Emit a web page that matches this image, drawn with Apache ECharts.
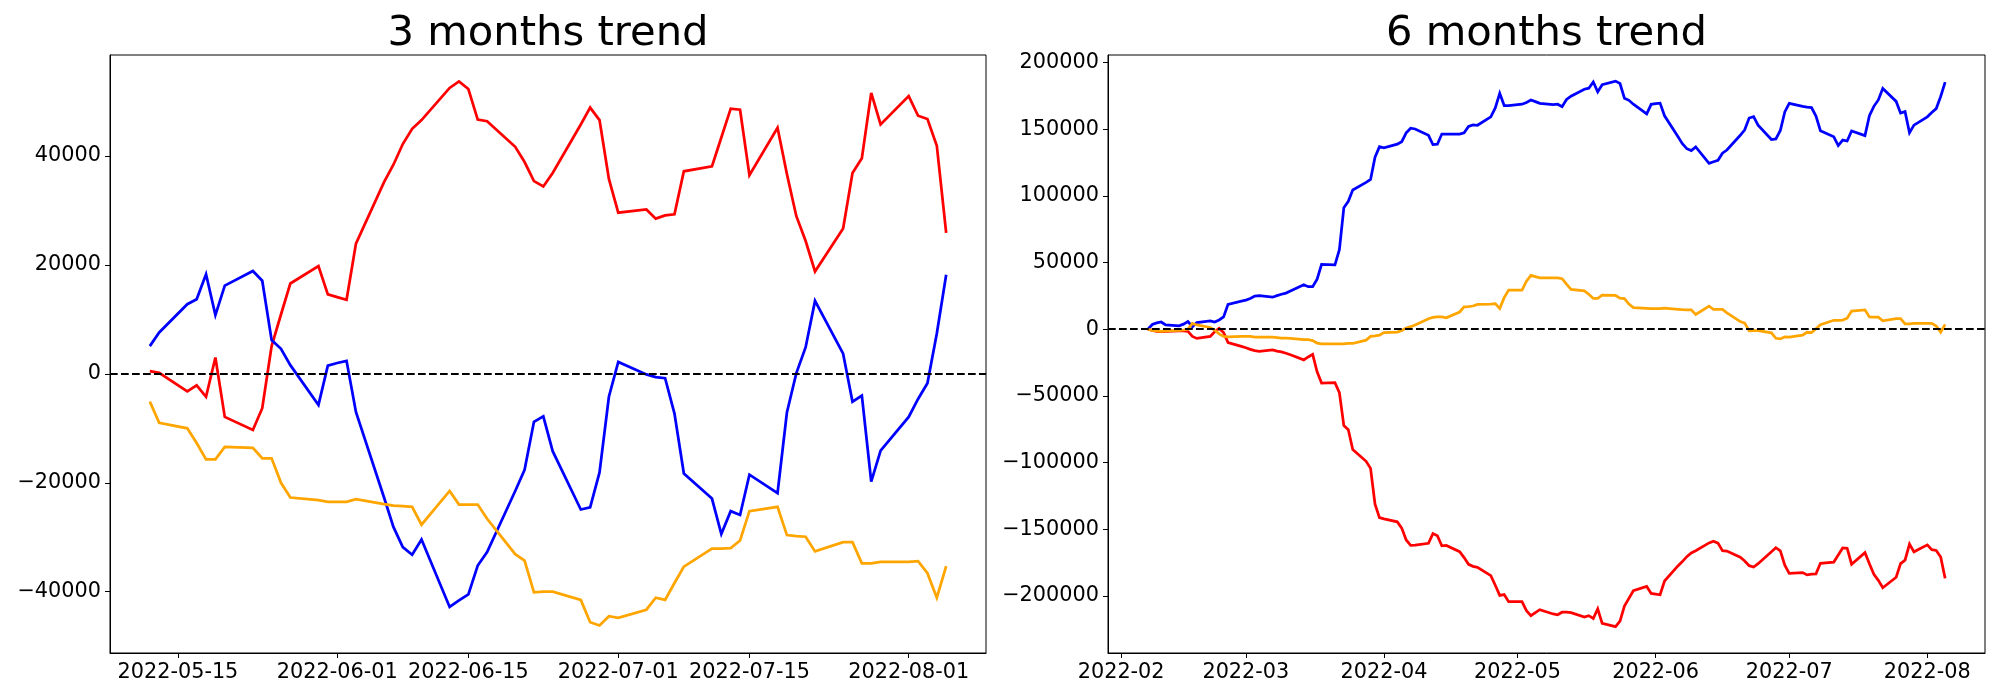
<!DOCTYPE html>
<html><head><meta charset="utf-8">
<script src="https://cdn.jsdelivr.net/npm/echarts@6/dist/echarts.min.js"></script>
<style>html,body{margin:0;padding:0;background:#fff}#c{width:2000px;height:700px}</style>
</head><body><div id="c"></div>
<script>
// ---------- 3 months (2022) ----------
const dates3 = ['05-12','05-13','05-16','05-17','05-18','05-19','05-20','05-23','05-24','05-25','05-26','05-27','05-30','05-31',
 '06-01','06-02','06-03','06-06','06-07','06-08','06-09','06-10','06-13','06-14','06-15','06-16','06-17','06-20','06-21','06-22','06-23','06-24','06-27','06-28','06-29','06-30',
 '07-01','07-04','07-05','07-06','07-07','07-08','07-11','07-12','07-13','07-14','07-15','07-18','07-19','07-20','07-21','07-22','07-25','07-26','07-27','07-28','07-29',
 '08-01','08-02','08-03','08-04','08-05'];
const red3 = [500,200,-3200,-2100,-4200,3000,-7900,-10300,-6300,5100,10900,16600,19800,14600,
 14100,13600,23900,35200,38400,42200,45000,46600,52500,53700,52300,46700,46400,41700,38900,35400,34400,36900,45800,48900,46600,35800,
 29600,30200,28500,29100,29300,37200,38100,43400,48700,48500,36500,45200,36700,29000,24400,18800,26700,36900,39600,51600,45800,
 51000,47400,46800,41900,25900];
const blue3 = [5100,7600,12800,13700,18300,10800,16200,18900,17100,6200,4600,1600,-5700,1500,
 2000,2400,-7000,-22700,-28100,-31800,-33200,-30400,-42800,-41600,-40500,-35200,-32700,-21500,-17600,-8800,-7800,-14200,-24900,-24500,-18100,-4200,
 2200,-100,-600,-800,-7300,-18300,-22900,-29400,-25200,-25900,-18500,-21900,-7100,100,4900,13400,3700,-5100,-4000,-19800,-14100,
 -7900,-4600,-1700,7400,18200];
const orange3 = [-5100,-9000,-10000,-12700,-15700,-15700,-13400,-13600,-15500,-15500,-20000,-22700,-23200,-23500,
 -23500,-23500,-23000,-23900,-24200,-24300,-24400,-27700,-21500,-24000,-24000,-24000,-26600,-33100,-34300,-40100,-40000,-40000,-41500,-45600,-46200,-44500,
 -44800,-43300,-41100,-41500,-38400,-35400,-32100,-32100,-32000,-30600,-25200,-24400,-29600,-29800,-29900,-32600,-30900,-30900,-34800,-34800,-34500,
 -34500,-34400,-36600,-41100,-35300];
const xTicks3 = ['2022-05-15','2022-06-01','2022-06-15','2022-07-01','2022-07-15','2022-08-01'];
const yTicks3 = [-40000,-20000,0,20000,40000];

// ---------- 6 months (2022) ----------
const dates6 = [
 '02-07','02-08','02-09','02-10','02-11','02-14','02-15','02-16','02-17','02-18','02-21','02-22','02-23','02-24','02-25','02-28',
 '03-01','03-02','03-03','03-04','03-07','03-08','03-09','03-10','03-11','03-14','03-15','03-16','03-17','03-18','03-21','03-22','03-23','03-24','03-25','03-28','03-29','03-30','03-31',
 '04-01','04-04','04-05','04-06','04-07','04-08','04-11','04-12','04-13','04-14','04-15','04-18','04-19','04-20','04-21','04-22','04-25','04-26','04-27','04-28','04-29',
 '05-02','05-03','05-04','05-05','05-06','05-09','05-10','05-11','05-12','05-13','05-16','05-17','05-18','05-19','05-20','05-23','05-24','05-25','05-26','05-27','05-30','05-31',
 '06-01','06-02','06-03','06-06','06-07','06-08','06-09','06-10','06-13','06-14','06-15','06-16','06-17','06-20','06-21','06-22','06-23','06-24','06-27','06-28','06-29','06-30',
 '07-01','07-04','07-05','07-06','07-07','07-08','07-11','07-12','07-13','07-14','07-15','07-18','07-19','07-20','07-21','07-22','07-25','07-26','07-27','07-28','07-29',
 '08-01','08-02','08-03','08-04','08-05'];
const blue6 = [
 0,3500,4700,5400,3200,2500,3800,5700,1900,5000,6300,5400,6900,9200,18600,21100,
 21800,23000,24900,25200,24000,25200,26200,27100,28700,33400,31900,31900,37500,48600,48300,59600,91200,95900,104400,110100,112300,129000,136900,
 136000,138800,140700,147300,150800,150200,145400,138500,138800,146400,146400,146400,147300,152100,153300,153000,159300,166000,177000,167800,167800,
 168800,170100,171900,170700,169400,168500,168800,166900,172300,174800,180000,180800,185500,178000,183400,186100,184300,173300,171700,168800,161500,168700,
 169200,169600,160100,144500,139100,135400,134000,136800,124400,125600,126700,132000,134400,145500,149600,158400,159400,153000,142300,142700,149100,163000,
 169400,167100,166600,166300,159900,148900,144300,137800,141900,141200,148700,145200,160100,167200,172000,180600,170900,162100,163200,147400,153100,
 159300,162600,165500,174600,185400];
const red6 = [
 0,-900,-1600,-1900,-1600,-1300,-1300,-1600,-5400,-6900,-5400,-1900,600,-2500,-10100,-12900,
 -13900,-15100,-16100,-16700,-15500,-16400,-17000,-18000,-19200,-23000,-20800,-18900,-31900,-40400,-40100,-47600,-72300,-75400,-90200,-99100,-104400,-131200,-141300,
 -142300,-144500,-149200,-158100,-162200,-161900,-160600,-153300,-154900,-162500,-162200,-166900,-171300,-176400,-177900,-178600,-184900,-192100,-199700,-199100,-204400,
 -204400,-211100,-214900,-212600,-210400,-213600,-214200,-212300,-212300,-212600,-216000,-214900,-217000,-209800,-220700,-223100,-219000,-207700,-201900,-196200,-193000,-198200,
 -198700,-199200,-188900,-177600,-174300,-170600,-167800,-166200,-160300,-159100,-160500,-166100,-166400,-171100,-173900,-177400,-178400,-175900,-167000,-163900,-166200,-177000,
 -183200,-182600,-184300,-183700,-183500,-175600,-174700,-169400,-164100,-164300,-176300,-167600,-176000,-183800,-188400,-194000,-186100,-175900,-173200,-161200,-167000,
 -161800,-165400,-166000,-170900,-186900];
const orange6 = [
 0,-900,-1300,-1600,-1300,-900,-600,0,4400,3200,1300,-600,-3500,-5400,-5700,-5400,
 -5400,-5400,-6000,-6000,-6000,-6300,-6600,-6600,-6900,-7900,-7900,-8500,-10400,-11000,-11000,-11000,-11000,-10700,-10700,-8200,-5400,-5000,-4400,
 -2500,-2200,-900,900,1900,3200,7900,8800,9200,9200,8500,12900,16700,17000,17400,18600,18900,19200,15500,23700,29300,
 29300,36000,40400,39400,38500,38500,38500,37900,33800,29900,28800,26200,23100,23200,25500,25300,23300,23000,18900,16200,15600,15400,
 15400,15400,15800,14900,14600,14500,14500,11100,17300,14800,14800,14800,12300,5700,4600,-1200,-1100,-1100,-2700,-6800,-7300,-5700,
 -5900,-4500,-2300,-2600,400,3400,6700,6700,6800,8200,13600,14500,9200,9100,9000,6300,8000,8000,4000,4000,4300,
 4300,4400,2300,-2200,3600];
const xTicks6 = ['2022-02','2022-03','2022-04','2022-05','2022-06','2022-07','2022-08'];
const yTicks6 = [-200000,-150000,-100000,-50000,0,50000,100000,150000,200000];

// ---------- helpers ----------
function ts(s){ const p=s.split('-').map(Number); return new Date(p[0],p[1]-1,p[2]||1).getTime(); }
function pad(n){ return (n<10?'0':'')+n; }
function fmtDay(v){ const d=new Date(v); return d.getFullYear()+'-'+pad(d.getMonth()+1)+'-'+pad(d.getDate()); }
function fmtMonth(v){ const d=new Date(v); return d.getFullYear()+'-'+pad(d.getMonth()+1); }
function fmtNum(v){ return v<0 ? '\u2212'+Math.abs(v) : String(v); }
function pairs(dates,vals){ return dates.map((d,i)=>[ts('2022-'+d), vals[i]]); }
function xlim(dates){ const a=ts('2022-'+dates[0]), b=ts('2022-'+dates[dates.length-1]); const m=(b-a)*0.05; return [a-m,b+m]; }

const FONT = 'DejaVu Sans';
const lim3 = xlim(dates3), lim6 = xlim(dates6);

function xAxis(gi, lim, ticks, fmt){
  const vals = ticks.map(ts);
  return { type:'value', gridIndex:gi, min:lim[0], max:lim[1], scale:true,
    axisLine:{show:true, onZero:false, lineStyle:{color:'#000', width:1}},
    axisTick:{show:true, inside:false, length:5, lineStyle:{color:'#000', width:1}, customValues:vals},
    axisLabel:{show:true, margin:9, color:'#000', fontFamily:FONT, fontSize:20.8, customValues:vals, formatter:fmt, hideOverlap:false},
    splitLine:{show:false}, minorTick:{show:false} };
}
function yAxis(gi, mn, mx, ticks){
  return { type:'value', gridIndex:gi, min:mn, max:mx, scale:true,
    axisLine:{show:true, onZero:false, lineStyle:{color:'#000', width:1}},
    axisTick:{show:true, inside:false, length:5, lineStyle:{color:'#000', width:1}, customValues:ticks},
    axisLabel:{show:true, margin:9, color:'#000', fontFamily:FONT, fontSize:20.8, customValues:ticks, formatter:fmtNum},
    splitLine:{show:false} };
}
function line(name, xi, data, color, withZero){
  const s = { name, type:'line', xAxisIndex:xi, yAxisIndex:xi, data, showSymbol:false, symbol:'none',
    lineStyle:{color, width:2.75, join:'miter', miterLimit:4}, itemStyle:{color}, smooth:false, silent:true, animation:false, z:2 };
  if(withZero){
    s.markLine = { silent:true, symbol:['none','none'], label:{show:false}, animation:false,
      lineStyle:{color:'#000', width:2, type:[7.7,3.3], opacity:1}, emphasis:{disabled:true},
      data:[{yAxis:0}] };
  }
  return s;
}

const chart = echarts.init(document.getElementById('c'), null, {renderer:'canvas', width:2000, height:700});
chart.setOption({
  backgroundColor:'#fff',
  animation:false,
  grid:[
    {left:110, top:55, width:876, height:598, show:true, borderColor:'#000', borderWidth:1, backgroundColor:'transparent'},
    {left:1108, top:55, width:877, height:598, show:true, borderColor:'#000', borderWidth:1, backgroundColor:'transparent'}
  ],
  xAxis:[ xAxis(0, lim3, xTicks3, fmtDay), xAxis(1, lim6, xTicks6, fmtMonth) ],
  yAxis:[ yAxis(0, -51250, 58550, yTicks3), yAxis(1, -242900, 205700, yTicks6) ],
  graphic:[
    {type:'text', x:548, y:33.8, style:{text:'3 months trend', fill:'#000', font:'41.7px "DejaVu Sans"', align:'center', verticalAlign:'middle'}},
    {type:'text', x:1546.5, y:33.8, style:{text:'6 months trend', fill:'#000', font:'41.7px "DejaVu Sans"', align:'center', verticalAlign:'middle'}}
  ],
  series:[
    line('red3', 0, pairs(dates3, red3), '#ff0000', false),
    line('blue3', 0, pairs(dates3, blue3), '#0000ff', false),
    line('orange3', 0, pairs(dates3, orange3), '#ffa500', true),
    line('red6', 1, pairs(dates6, red6), '#ff0000', false),
    line('blue6', 1, pairs(dates6, blue6), '#0000ff', false),
    line('orange6', 1, pairs(dates6, orange6), '#ffa500', true)
  ]
});
</script></body></html>
